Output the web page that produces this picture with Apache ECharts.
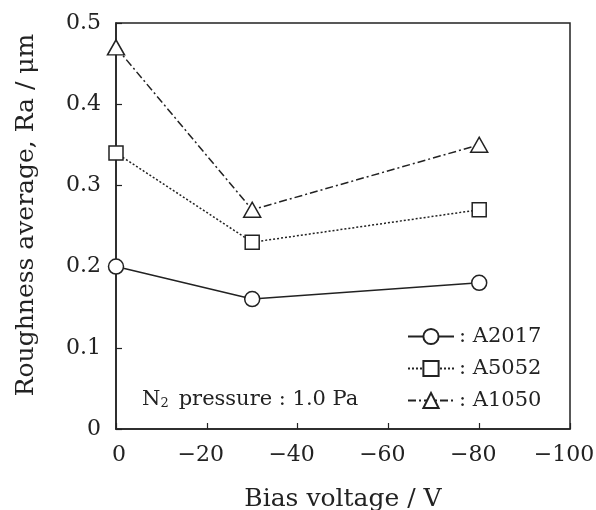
<!DOCTYPE html>
<html>
<head>
<meta charset="utf-8">
<style>
  html, body { margin: 0; padding: 0; background: #fff; }
  #chart { width: 596px; height: 510px; }
</style>
<script src="https://cdn.jsdelivr.net/npm/echarts@6/dist/echarts.min.js"></script>
</head>
<body>
<div id="chart"></div>
<script>
// Bias voltage (V) at which each alloy was measured
const biasVoltage = [0, -30, -80];
// Roughness average Ra (µm) per alloy
const a2017 = [0.20, 0.16, 0.18];
const a5052 = [0.34, 0.23, 0.27];
const a1050 = [0.47, 0.27, 0.35];
const seriesNames = ['A2017', 'A5052', 'A1050'];
const xTicks = [0, -20, -40, -60, -80, -100];
const yTicks = [0, 0.1, 0.2, 0.3, 0.4, 0.5];

const ink = '#222';
const serif = 'DejaVu Serif';

function pairs(ys) {
  return biasVoltage.map((x, i) => [x, ys[i]]);
}

// Negative labels carry a leading minus; nudge them so the digits sit under the tick
function fmtX(v) {
  return v === 0 ? '{z|0}' : '{m|\u2212' + Math.abs(v) + '}';
}
function fmtY(v) {
  return v === 0 ? '0' : v.toFixed(1);
}

const markerStyle = { color: '#fff', borderColor: ink, borderWidth: 1.5 };
const tickFont = { fontFamily: serif, fontSize: 22, color: ink };

const chart = echarts.init(document.getElementById('chart'), null, { renderer: 'canvas' });
chart.setOption({
  animation: false,
  backgroundColor: '#fff',
  grid: {
    left: 116, top: 23, width: 454, height: 406,
    outerBoundsMode: 'none', containLabel: false,
    show: true, borderColor: ink, borderWidth: 1.5, backgroundColor: 'transparent'
  },
  title: {
    text: '{n|N}{s|2}  {n|pressure : 1.0 Pa}',
    left: 137, top: 384,
    textStyle: {
      fontWeight: 'normal',
      rich: {
        n: { fontFamily: serif, fontSize: 21, color: ink, fontWeight: 'normal' },
        s: { fontFamily: serif, fontSize: 13, color: ink, fontWeight: 'normal',
             verticalAlign: 'bottom', padding: [8, 0, 0, 0] }
      }
    }
  },
  legend: {
    data: seriesNames,
    orient: 'vertical',
    left: 402, top: 321,
    itemWidth: 46, itemHeight: 19, itemGap: 11,
    formatter: name => ': ' + name,
    textStyle: { fontFamily: serif, fontSize: 21, color: ink },
    inactiveColor: ink
  },
  xAxis: {
    type: 'value',
    min: -100, max: 0, interval: 20,
    inverse: true,
    name: 'Bias voltage / V',
    nameLocation: 'middle', nameGap: 58,
    nameTextStyle: { fontFamily: serif, fontSize: 25, color: ink },
    axisLine: { lineStyle: { color: ink, width: 1.5 } },
    axisTick: { inside: true, length: 6, lineStyle: { color: ink, width: 1.2 } },
    axisLabel: {
      formatter: fmtX, margin: 15, customValues: xTicks,
      rich: {
        z: Object.assign({ padding: [0, 0, 0, 6] }, tickFont),
        m: Object.assign({ padding: [0, 12, 0, 0] }, tickFont)
      }
    },
    splitLine: { show: false }
  },
  yAxis: {
    type: 'value',
    min: 0, max: 0.5, interval: 0.1,
    name: 'Roughness average, Ra / \u03bcm',
    nameLocation: 'middle', nameGap: 77,
    nameTextStyle: { fontFamily: serif, fontSize: 25, color: ink, padding: [0, 0, 0, 22] },
    axisLine: { show: true, lineStyle: { color: ink, width: 1.5 } },
    axisTick: { show: true, inside: true, length: 6, lineStyle: { color: ink, width: 1.2 } },
    axisLabel: Object.assign({ formatter: fmtY, margin: 15 }, tickFont),
    splitLine: { show: false }
  },
  series: [
    {
      name: seriesNames[0], type: 'line', data: pairs(a2017),
      symbol: 'circle', symbolSize: 15,
      lineStyle: { color: ink, width: 1.5, type: 'solid' },
      itemStyle: markerStyle, z: 3
    },
    {
      name: seriesNames[1], type: 'line', data: pairs(a5052),
      symbol: 'rect', symbolSize: 14,
      lineStyle: { color: ink, width: 1.5, type: [2, 2] },
      itemStyle: markerStyle, z: 3
    },
    {
      name: seriesNames[2], type: 'line', data: pairs(a1050),
      symbol: 'triangle', symbolSize: [17, 15],
      lineStyle: { color: ink, width: 1.5, type: [8, 3, 2, 3] },
      itemStyle: markerStyle, z: 3
    }
  ]
});
</script>
</body>
</html>
